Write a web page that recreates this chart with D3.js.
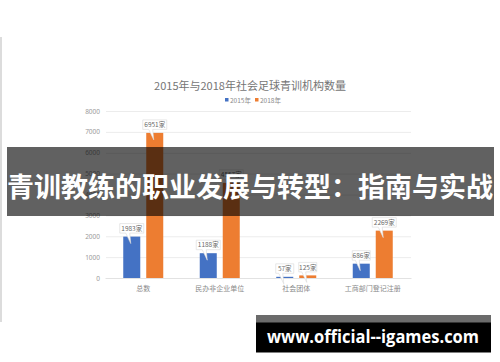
<!DOCTYPE html>
<html>
<head>
<meta charset="utf-8">
<script src="https://cdn.jsdelivr.net/npm/d3@7"></script>
<style>
  body { margin: 0; background: #fff; }
  svg { display: block; font-family: "Noto Sans CJK SC", "Noto Sans", sans-serif; }
</style>
</head>
<body>
<div id="chart"></div>
<script>
const width = 500;
const height = 362;

// data
const categories = ['总数', '民办非企业单位', '社会团体', '工商部门登记注册'];
const seriesNames = ['2015年', '2018年'];
const values2015 = [1983, 1188, 57, 686];
const values2018 = [6951, 4557, 125, 2269];
const yTicks = [0, 1000, 2000, 3000, 4000, 5000, 6000, 7000, 8000];
const colors = ['#4472c4', '#ed7d31'];

const svg = d3.select('#chart').append('svg').attr('width', width).attr('height', height);

// faint frame line on the left edge of the screenshot
svg.append('line')
  .attr('x1', 1).attr('x2', 1).attr('y1', 37).attr('y2', 322)
  .attr('stroke', '#dcdcdc').attr('stroke-width', 2);

const x0 = d3.scaleBand().domain(categories).range([105, 411]);
const groupW = 40;
const x1 = d3.scaleBand().domain(seriesNames)
  .range([(x0.bandwidth() - groupW) / 2, (x0.bandwidth() + groupW) / 2])
  .paddingInner(0.26);
const y = d3.scaleLinear().domain([0, 8000]).range([278, 111]);

// title + legend
svg.append('text')
  .attr('x', 250).attr('y', 90)
  .attr('text-anchor', 'middle')
  .attr('font-size', 11)
  .attr('fill', '#757575')
  .text('2015年与2018年社会足球青训机构数量');

const legend = svg.append('g').attr('transform', 'translate(225,100)');
seriesNames.forEach((s, i) => {
  const g = legend.append('g').attr('transform', `translate(${i * 30},0)`);
  g.append('rect').attr('x', 0).attr('y', -2).attr('width', 3.5).attr('height', 3.5).attr('fill', colors[i]);
  g.append('text').attr('x', 5).attr('y', 2.5).attr('font-size', 6.5).attr('fill', '#8a8a8a').text(s);
});

// gridlines + y axis labels
const yAxis = d3.axisLeft(y).tickValues(yTicks).tickFormat(d3.format('d'))
  .tickSize(-(411 - 106)).tickPadding(6);
const ya = svg.append('g').attr('transform', 'translate(106,0)').call(yAxis);
ya.select('.domain').remove();
ya.selectAll('.tick line').attr('stroke', '#ececec');
ya.selectAll('.tick text').attr('font-size', 6.5).attr('fill', '#9a9a9a')
  .attr('font-family', '"Noto Sans", sans-serif');

// x axis labels
const xAxis = d3.axisBottom(x0).tickSize(0).tickPadding(8);
const xa = svg.append('g').attr('transform', 'translate(0,278)').call(xAxis);
xa.select('.domain').attr('stroke', '#e2e2e2');
xa.selectAll('.tick text').attr('font-size', 7).attr('fill', '#8a8a8a')
  .attr('font-family', '"Noto Sans CJK SC", sans-serif');

// bars
const rows = categories.map((c, i) => ({ cat: c, vals: [values2015[i], values2018[i]] }));
const groups = svg.selectAll('.grp').data(rows).enter().append('g')
  .attr('class', 'grp')
  .attr('transform', d => `translate(${x0(d.cat)},0)`);

groups.selectAll('rect')
  .data(d => d.vals.map((v, i) => ({ s: seriesNames[i], v, i })))
  .enter().append('rect')
  .attr('x', d => x1(d.s))
  .attr('y', d => y(d.v))
  .attr('width', x1.bandwidth())
  .attr('height', d => y(0) - y(d.v))
  .attr('fill', d => colors[d.i]);

// callout data labels
const callouts = groups.selectAll('.callout')
  .data(d => d.vals.map((v, i) => ({ s: seriesNames[i], v, i })))
  .enter().append('g')
  .attr('class', 'callout')
  .attr('transform', d => `translate(${x1(d.s) + x1.bandwidth() / 2},${y(d.v)})`);

callouts.append('path')
  .attr('d', d => {
    const bw = d.v >= 1000 ? 24 : 18;
    const top = -13, bot = -3.5;
    return `M${-bw / 2},${top} H${bw / 2} V${bot} H${-2} L${-1},7 L${-6},${bot} H${-bw / 2} Z`;
  })
  .attr('fill', '#fff')
  .attr('stroke', '#d8d8d8')
  .attr('stroke-width', 0.6);

callouts.append('text')
  .attr('x', 0).attr('y', -5.8)
  .attr('text-anchor', 'middle')
  .attr('font-size', 6.5)
  .attr('fill', '#6a6a6a')
  .text(d => d.v + '家');

// overlay banner
svg.append('rect')
  .attr('x', 7).attr('y', 147).attr('width', 487).attr('height', 69)
  .attr('fill', 'rgba(0,0,0,0.62)');
svg.append('text')
  .attr('x', 250).attr('y', 197)
  .attr('text-anchor', 'middle')
  .attr('font-size', 27)
  .attr('font-weight', 'bold')
  .attr('fill', '#fff')
  .text('青训教练的职业发展与转型：指南与实战');

// watermark box
svg.append('rect').attr('x', 256).attr('y', 315).attr('width', 235).attr('height', 8).attr('fill', '#6b6b6b');
svg.append('rect').attr('x', 256).attr('y', 322.5).attr('width', 235).attr('height', 30).attr('fill', '#000');
svg.append('text')
  .attr('x', 267).attr('y', 343)
  .attr('font-size', 18)
  .attr('font-weight', 'bold')
  .attr('font-family', '"Open Sans", "DejaVu Sans", sans-serif')
  .attr('fill', '#fff')
  .attr('textLength', 212)
  .attr('lengthAdjust', 'spacingAndGlyphs')
  .text('www.official--igames.com');
</script>
</body>
</html>
